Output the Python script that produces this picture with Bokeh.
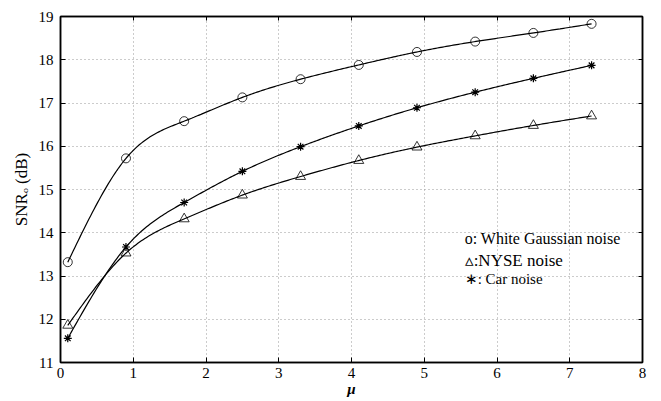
import numpy as np
from bokeh.plotting import figure
from bokeh.models import LinearAxis, Range1d, FixedTicker, Label, CustomLabelingPolicy
from bokeh.embed import file_html
from bokeh.resources import INLINE

mu = [0.1, 0.9, 1.7, 2.5, 3.3, 4.1, 4.9, 5.7, 6.5, 7.3]
white_gaussian = [13.32, 15.72, 16.58, 17.13, 17.55, 17.88, 18.18, 18.42, 18.62, 18.83]
nyse = [11.86, 13.53, 14.32, 14.87, 15.30, 15.67, 15.98, 16.24, 16.48, 16.70]
car = [11.56, 13.67, 14.70, 15.42, 15.99, 16.47, 16.89, 17.25, 17.57, 17.87]
x_ticks = [0, 1, 2, 3, 4, 5, 6, 7, 8]
y_ticks = [11, 12, 13, 14, 15, 16, 17, 18, 19]
legend_lines = ["o: White Gaussian noise", "\u25b5:NYSE noise", "\u2217: Car noise"]

FONT = "Liberation Serif"


def smooth(xs, ys, n=300):
    # natural cubic spline through the data, for drawing the curve
    x = np.asarray(xs, float)
    y = np.asarray(ys, float)
    k = len(x)
    h = np.diff(x)
    A = np.zeros((k, k))
    b = np.zeros(k)
    A[0, 0] = 1
    A[-1, -1] = 1
    for i in range(1, k - 1):
        A[i, i - 1] = h[i - 1]
        A[i, i] = 2 * (h[i - 1] + h[i])
        A[i, i + 1] = h[i]
        b[i] = 3 * ((y[i + 1] - y[i]) / h[i] - (y[i] - y[i - 1]) / h[i - 1])
    c = np.linalg.solve(A, b)
    xx = np.linspace(x[0], x[-1], n)
    idx = np.clip(np.searchsorted(x, xx) - 1, 0, k - 2)
    dx = xx - x[idx]
    hi = h[idx]
    bb = (y[idx + 1] - y[idx]) / hi - hi * (2 * c[idx] + c[idx + 1]) / 3
    dd = (c[idx + 1] - c[idx]) / (3 * hi)
    yy = y[idx] + bb * dx + c[idx] * dx ** 2 + dd * dx ** 3
    return xx, yy


p = figure(frame_width=582, frame_height=346, output_backend="svg", toolbar_location=None,
           x_range=Range1d(0, 8), y_range=Range1d(11, 19),
           x_axis_label="\u03bc", y_axis_label="SNR\u2092 (dB)")
p.min_border_left = 60
p.min_border_right = 19
p.min_border_top = 16
p.min_border_bottom = 39
p.outline_line_color = "black"
p.outline_line_width = 1.5
p.background_fill_color = "white"
p.border_fill_color = "white"

for ax in (p.xaxis[0], p.yaxis[0]):
    ax.major_label_text_font = FONT
    ax.major_label_text_font_size = "15px"
    ax.major_label_text_color = "black"
    ax.axis_label_text_font = FONT
    ax.axis_label_text_font_size = "17px"
    ax.axis_label_text_font_style = "normal"
    ax.axis_label_text_color = "black"
    ax.major_tick_in = 5
    ax.major_tick_out = 0
    ax.minor_tick_in = 0
    ax.minor_tick_out = 0
    ax.axis_line_width = 1.5
    ax.axis_line_color = "black"
    ax.major_tick_line_color = "black"
    ax.major_label_standoff = 7

p.xaxis[0].ticker = FixedTicker(ticks=x_ticks)
p.yaxis[0].ticker = FixedTicker(ticks=y_ticks)
p.xaxis[0].axis_label_text_font_style = "bold italic"
p.xaxis[0].axis_label_text_font_size = "15px"
p.xaxis[0].major_label_standoff = 5
p.xaxis[0].axis_label_standoff = 0
p.yaxis[0].axis_label_standoff = 5

hide_all = "for (const i of indices) indices.unset(i)\nreturn indices"
top = LinearAxis(ticker=FixedTicker(ticks=x_ticks),
                 major_label_policy=CustomLabelingPolicy(code=hide_all),
                 major_tick_in=4, major_tick_out=0, minor_tick_in=0, minor_tick_out=0,
                 axis_line_width=1.5, major_label_standoff=0)
right = LinearAxis(ticker=FixedTicker(ticks=y_ticks),
                   major_label_policy=CustomLabelingPolicy(code=hide_all),
                   major_tick_in=4, major_tick_out=0, minor_tick_in=0, minor_tick_out=0,
                   axis_line_width=1.5, major_label_standoff=0)
p.add_layout(top, "above")
p.add_layout(right, "right")

p.xgrid.ticker = FixedTicker(ticks=x_ticks)
p.ygrid.ticker = FixedTicker(ticks=y_ticks)
p.grid.grid_line_color = "#999999"
p.grid.grid_line_dash = "1 3"
p.grid.grid_line_width = 1

for ys in (white_gaussian, nyse, car):
    xx, yy = smooth(mu, ys)
    p.line(xx, yy, line_color="black", line_width=1.2)

p.scatter(mu, white_gaussian, marker="circle", size=9, fill_color=None,
          line_color="black", line_width=0.8)
p.scatter(mu, nyse, marker="triangle", size=10, fill_color=None,
          line_color="black", line_width=0.8)
p.scatter(mu, car, marker="asterisk", size=8, line_color="black", line_width=1.2)

leg_x = 5.555
leg_y = [13.87, 13.36, 12.92]
leg_size = ["16px", "17px", "15px"]
for t, yv, fs in zip(legend_lines, leg_y, leg_size):
    p.add_layout(Label(x=leg_x, y=yv, text=t, text_font=FONT, text_font_size=fs,
                       text_baseline="middle", text_align="left", text_color="black"))

open("out.html", "w").write(file_html(p, INLINE))
